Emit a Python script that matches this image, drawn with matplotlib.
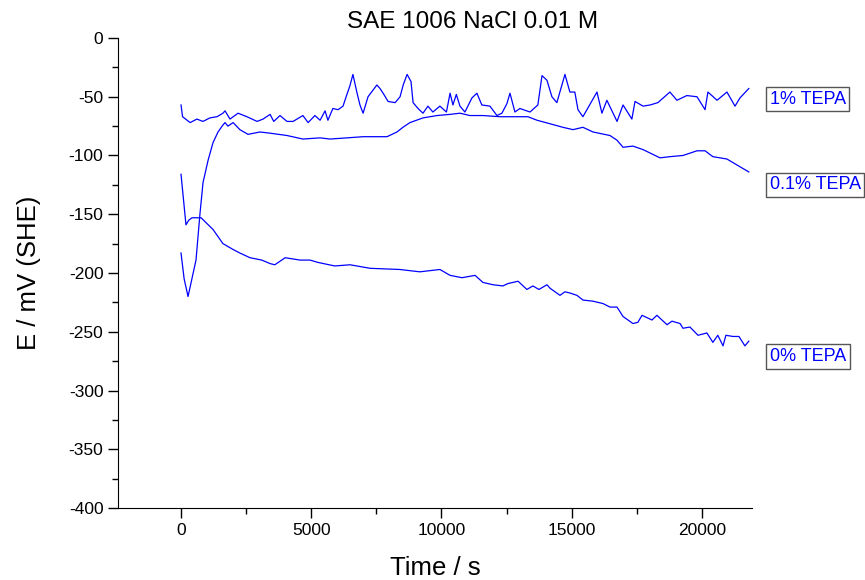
import matplotlib
matplotlib.use("Agg")
import matplotlib.pyplot as plt
from matplotlib.ticker import MultipleLocator

# 0% TEPA
t0 = [0, 190, 300, 420, 770, 1230, 1610, 2000, 2260, 2650, 3100, 3420, 3600, 4000, 4570,
      4950, 5260, 5900, 6490, 7260, 8400, 9170, 9940, 10330, 10790, 11290, 11590, 11980,
      12360, 12550, 12940, 13280, 13510, 13740, 14050, 14170, 14550, 14740, 14930, 15200,
      15430, 15820, 16200, 16470, 16740, 16970, 17350, 17540, 17700, 17890, 18080, 18270,
      18660, 18850, 19160, 19270, 19540, 19850, 20190, 20420, 20610, 20810, 20920, 21190,
      21420, 21650, 21800]
e0 = [-116, -159, -155, -153, -153, -163, -175, -180, -183, -187, -189, -192, -193, -187, -189,
      -189, -191, -194, -193, -196, -197, -199, -197, -202, -204, -202, -208, -210,
      -211, -209, -207, -214, -211, -214, -210, -213, -219, -216, -217, -219,
      -223, -224, -226, -229, -229, -237, -243, -242, -236, -238, -240, -236,
      -244, -241, -243, -247, -246, -253, -251, -259, -253, -262, -253, -254,
      -254, -262, -258]

# 0.1% TEPA
t1 = [0, 120, 270, 575, 730, 845, 1040, 1230, 1420, 1610, 1690, 1800, 2000, 2260, 2570,
      3030, 3420, 4070, 4680, 5340, 5720, 6370, 6990, 7520, 7910, 8290, 8520, 8790, 9290,
      9830, 10330, 10710, 11090, 11590, 12250, 12900, 13320, 13670, 14170, 14660, 15050,
      15430, 15820, 16470, 16740, 16970, 17350, 17740, 18390, 18770, 19270, 19810, 20120,
      20420, 20960, 21340, 21800]
e1 = [-183, -205, -220, -189, -149, -123, -104, -89, -80, -74, -72, -75, -72, -78, -82,
      -80, -81, -83, -86, -85, -86, -85, -84, -84, -84, -80, -76, -72, -68,
      -66, -65, -64, -66, -66, -67, -67, -67, -70, -73, -76, -78,
      -76, -80, -83, -87, -93, -92, -95, -102, -101, -100, -96, -96,
      -101, -103, -108, -114]

# 1% TEPA
t2 = [0, 60, 350, 610, 840, 1110, 1380, 1610, 1690, 1880, 2190, 2530, 2920, 3150, 3420,
      3560, 3800, 4070, 4300, 4680, 4880, 5140, 5340, 5530, 5640, 5830, 6030, 6220, 6370,
      6480, 6600, 6760, 6870, 6990, 7180, 7520, 7640, 7760, 7950, 8220, 8410, 8530, 8680,
      8830, 8910, 9100, 9290, 9480, 9670, 9940, 10190, 10330, 10440, 10570, 10710, 10900,
      11170, 11360, 11550, 11860, 12130, 12320, 12510, 12630, 12820, 13010, 13400, 13700,
      13860, 14050, 14240, 14430, 14740, 14930, 15120, 15240, 15430, 15970, 16160, 16350,
      16740, 16970, 17310, 17430, 17740, 18010, 18310, 18770, 19040, 19420, 19810, 20120,
      20230, 20580, 20960, 21270, 21460, 21800]
e2 = [-57, -67, -72, -69, -71, -68, -67, -64, -62, -69, -64, -67, -71, -69, -65,
      -71, -66, -71, -71, -66, -72, -66, -70, -62, -70, -60, -61, -58, -48,
      -41, -31, -47, -57, -64, -50, -40, -43, -47, -54, -55, -50, -40, -31,
      -37, -55, -60, -64, -58, -63, -58, -63, -47, -57, -48, -58, -63,
      -51, -47, -57, -58, -66, -64, -56, -47, -63, -60, -63, -57,
      -32, -36, -50, -55, -31, -46, -46, -61, -67, -46, -64, -53,
      -71, -57, -69, -54, -58, -57, -55, -46, -53, -49, -50, -61,
      -46, -53, -46, -58, -51, -43]

labels = ["0% TEPA", "0.1% TEPA", "1% TEPA"]
label_y = [-271, -125, -52]

plt.rcParams.update({'font.family': 'Liberation Sans', 'axes.unicode_minus': False})
fig = plt.figure(figsize=(8.65, 5.8), dpi=100)
ax = fig.add_axes([0.1364, 0.1241, 0.7329, 0.8104])

for t, e in [(t0, e0), (t1, e1), (t2, e2)]:
    ax.plot(t, e, color='#0000ff', linewidth=0.9)

ax.set_xlim(-2420, 21920)
ax.set_ylim(-400, 0)
ax.xaxis.set_major_locator(MultipleLocator(5000))
ax.xaxis.set_minor_locator(MultipleLocator(2500))
ax.yaxis.set_major_locator(MultipleLocator(50))
ax.yaxis.set_minor_locator(MultipleLocator(25))
ax.spines['top'].set_visible(False)
ax.spines['right'].set_visible(False)
ax.tick_params(which='major', direction='out', length=7, width=1, labelsize=12.5)
ax.tick_params(which='minor', direction='out', length=4, width=1)

ax.set_xlabel("Time / s", fontsize=18.5, labelpad=13)
ax.set_ylabel("E / mV (SHE)", fontsize=18.5, labelpad=20)
fig.text(0.546, 0.962, "SAE 1006 NaCl 0.01 M", ha='center', va='center', fontsize=17.5)

for lab, y in zip(labels, label_y):
    ax.text(22600, y, lab, color='#0000ff', fontsize=13, va='center', ha='left',
            clip_on=False,
            bbox=dict(boxstyle='square,pad=0.2', facecolor='white', edgecolor='#555555',
                      linewidth=1))

fig.savefig("out.png", dpi=100)
